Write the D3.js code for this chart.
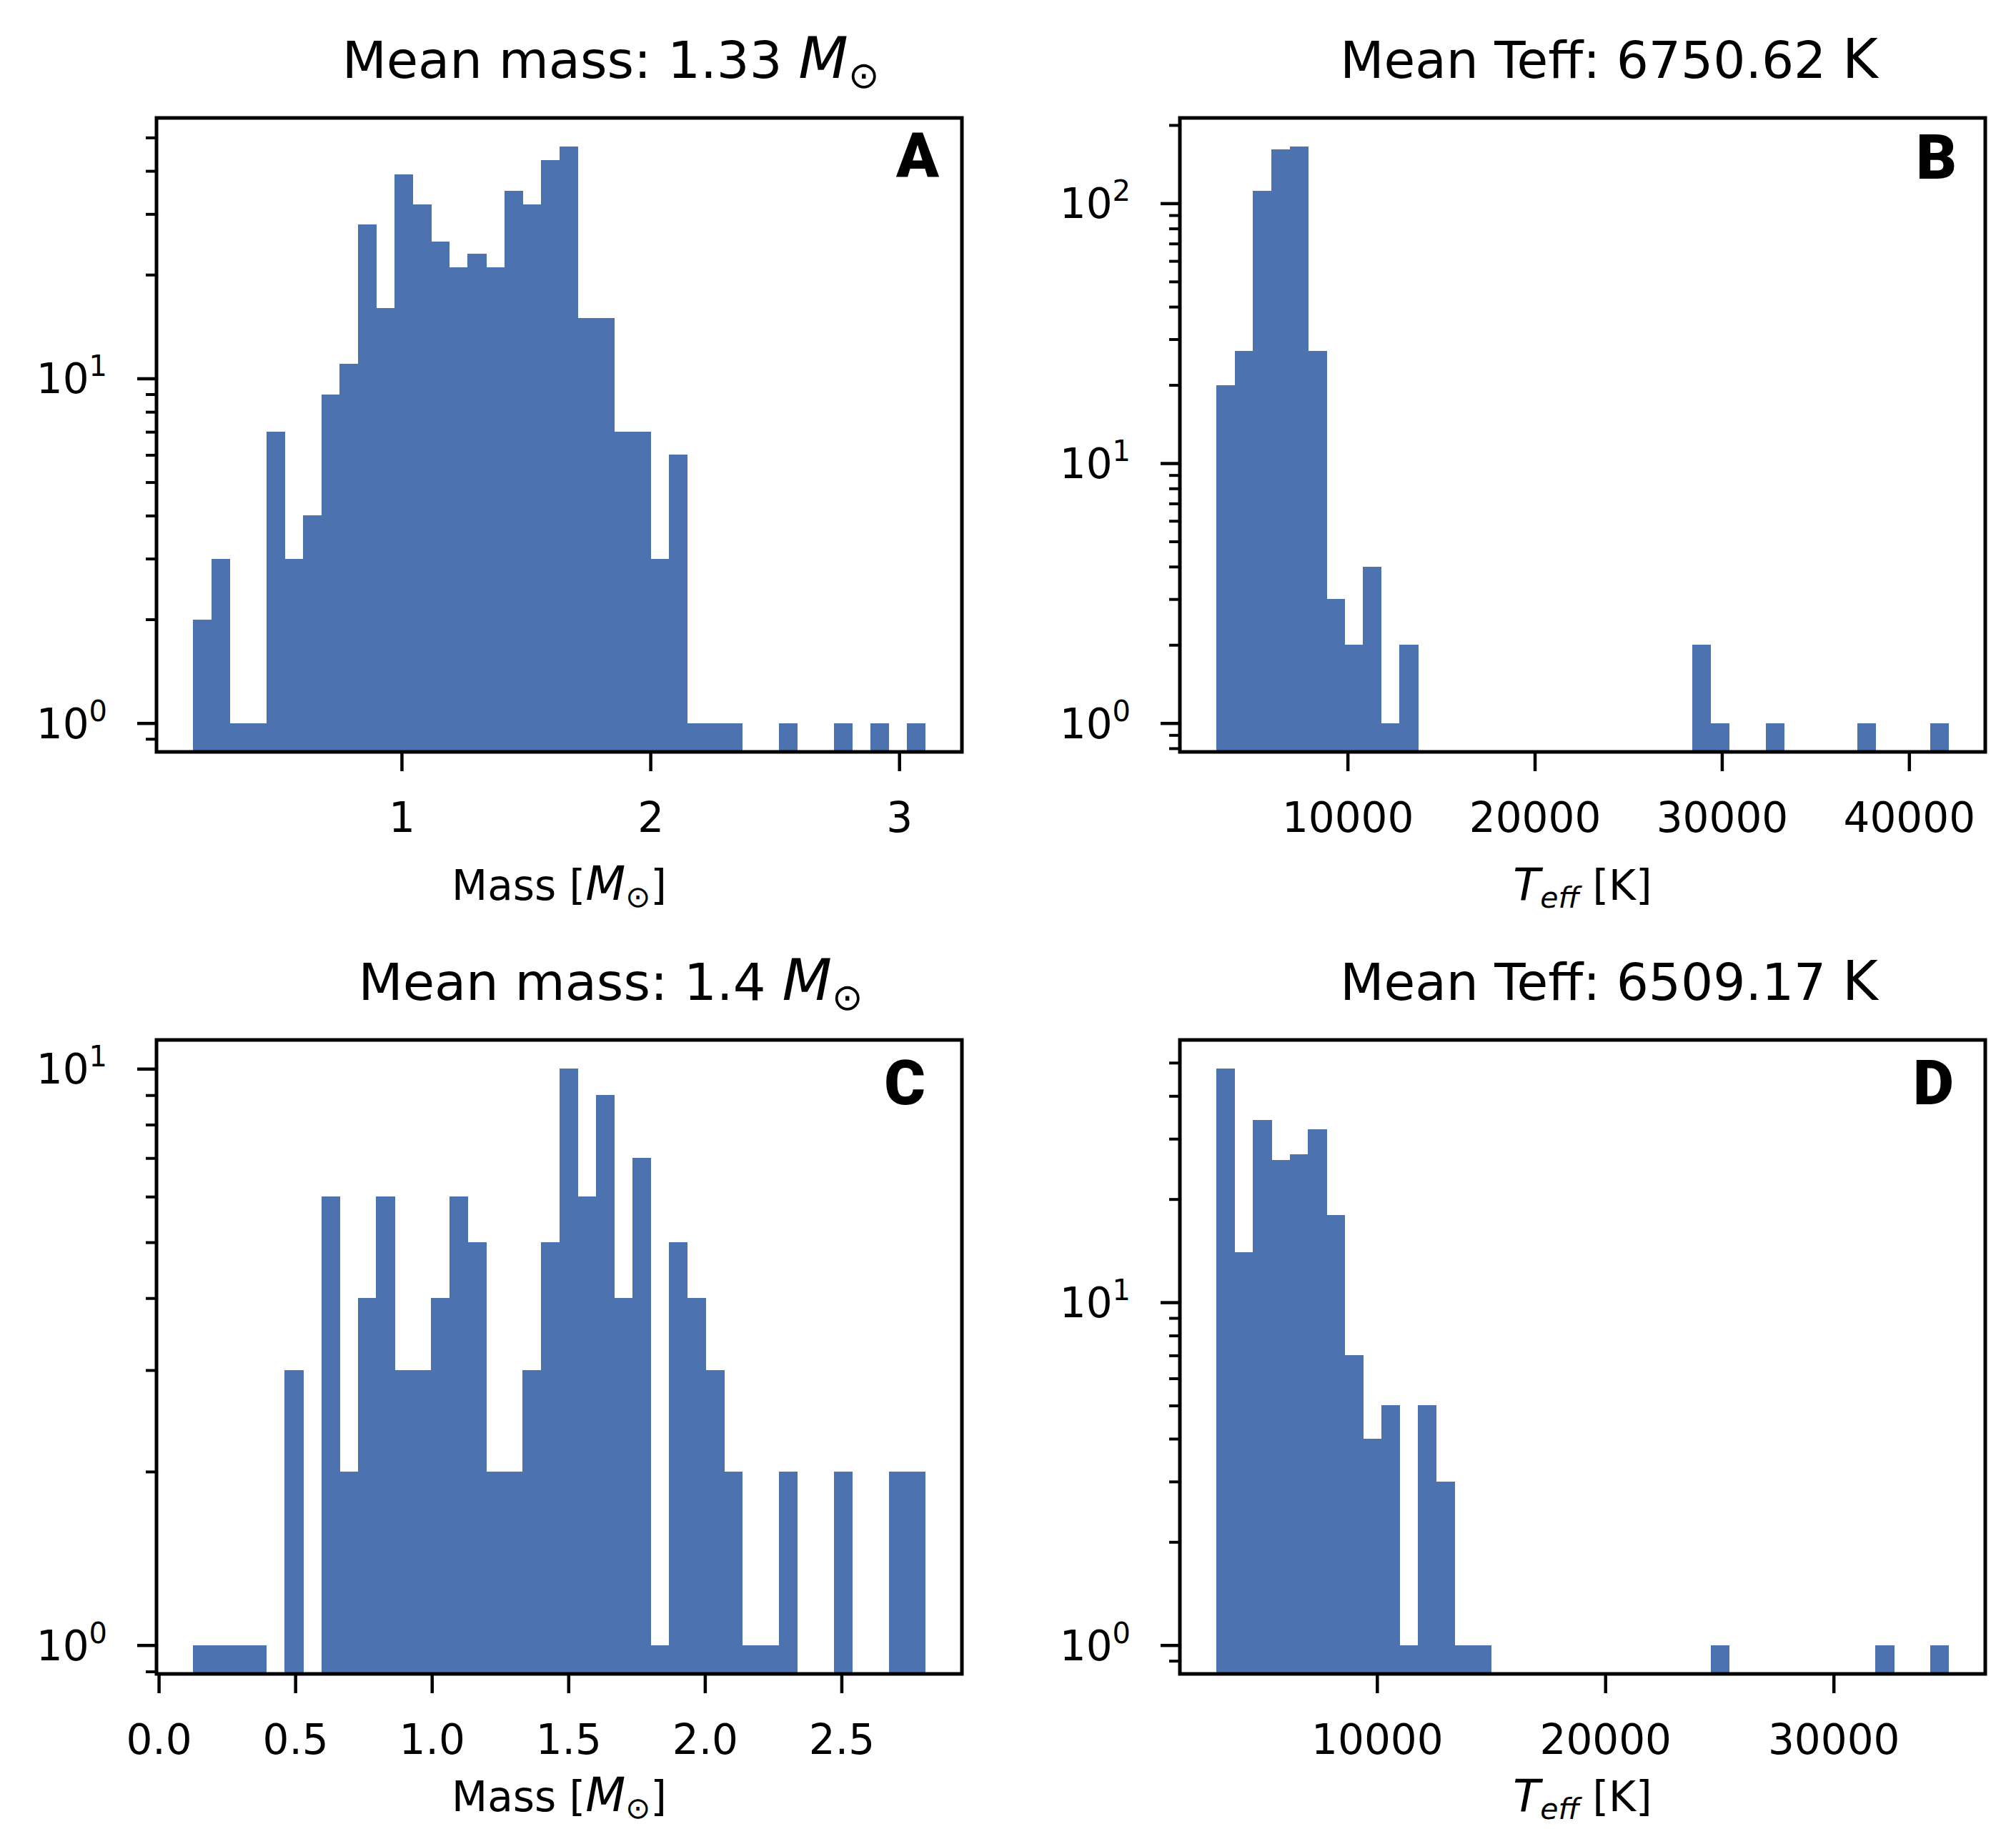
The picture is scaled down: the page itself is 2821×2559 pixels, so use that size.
<!DOCTYPE html>
<html>
<head>
<meta charset="utf-8">
<script src="https://cdn.jsdelivr.net/npm/d3@7"></script>
<style>
    body { margin: 0; background: #ffffff; }
    svg { display: block; font-family: "DejaVu Sans", sans-serif; }
</style>
</head>
<body>
<svg id="figure"></svg>
<script>
//histogram data, 40 bins per panel, counts
let massRangeTop = [0.162, 3.105];
let massCountsTop = [2, 3, 1, 1, 7, 3, 4, 9, 11, 28, 16, 39, 32, 25, 21, 23, 21, 35, 32, 43,
    47, 15, 15, 7, 7, 3, 6, 1, 1, 1, 0, 0, 1, 0, 0, 1, 0, 1, 0, 1];

let teffRangeTop = [2996, 42118];
let teffCountsTop = [20, 27, 112, 161, 165, 27, 3, 2, 4, 1, 2, 0, 0, 0, 0, 0, 0, 0, 0, 0,
    0, 0, 0, 0, 0, 0, 2, 1, 0, 0, 1, 0, 0, 0, 0, 1, 0, 0, 0, 1];

let massRangeBottom = [0.126, 2.807];
let massCountsBottom = [1, 1, 1, 1, 0, 3, 0, 6, 2, 4, 6, 3, 3, 4, 6, 5, 2, 2, 3, 5,
    10, 6, 9, 4, 7, 1, 5, 4, 3, 2, 1, 1, 2, 0, 0, 2, 0, 0, 2, 2];

let teffRangeBottom = [2969, 35042];
let teffCountsBottom = [48, 14, 34, 26, 27, 32, 18, 7, 4, 5, 1, 5, 3, 1, 1, 0, 0, 0, 0, 0,
    0, 0, 0, 0, 0, 0, 0, 1, 0, 0, 0, 0, 0, 0, 0, 0, 1, 0, 0, 1];

//tick values and labels
let massTicksTop = [1, 2, 3];
let teffTicksTop = [10000, 20000, 30000, 40000];
let massTicksBottom = [0, 0.5, 1, 1.5, 2, 2.5];
let teffTicksBottom = [10000, 20000, 30000];

let panelLetters = ["A", "B", "C", "D"];
let meanMass = ["1.33", "1.4"];
let meanTeff = ["6750.62", "6509.17"];

let barColor = "#4c72b0";
let nBins = 40;

//figure layout
let W = 2821, H = 2559;
let axLeft = [219, 1651];
let axTop = [165, 1455];
let axWidth = 1127;
let axHeight = 887;
let xLabelGap = [207, 192];

let svg = d3.select("#figure")
    .attr("width", W)
    .attr("height", H)
    .style("background-color", "#ffffff");

svg.append("rect").attr("width", W).attr("height", H).attr("fill", "#ffffff");

let panels = [
    {range: massRangeTop, counts: massCountsTop, ticks: massTicksTop, fmt: d3.format("d"),
        col: 0, row: 0, letter: panelLetters[0], kind: "mass", mean: meanMass[0], letterDx: 32, letterDy: 83},
    {range: teffRangeTop, counts: teffCountsTop, ticks: teffTicksTop, fmt: d3.format("d"),
        col: 1, row: 0, letter: panelLetters[1], kind: "teff", mean: meanTeff[0], letterDx: 40, letterDy: 85},
    {range: massRangeBottom, counts: massCountsBottom, ticks: massTicksBottom, fmt: d3.format(".1f"),
        col: 0, row: 1, letter: panelLetters[2], kind: "mass", mean: meanMass[1], letterDx: 51, letterDy: 90},
    {range: teffRangeBottom, counts: teffCountsBottom, ticks: teffTicksBottom, fmt: d3.format("d"),
        col: 1, row: 1, letter: panelLetters[3], kind: "teff", mean: meanTeff[1], letterDx: 44, letterDy: 90}
];

//M with sun subscript, mathtext style
function addMsun(text, size, shift) {
    text.append("tspan")
        .style("font-style", "italic")
        .attr("font-size", size * 1.12)
        .text("M");
    text.append("tspan")
        .attr("font-size", size * 0.72)
        .attr("dy", shift)
        .text("\u2299");
}

function drawPanel(p) {
    let left = axLeft[p.col];
    let top = axTop[p.row];

    let span = p.range[1] - p.range[0];
    let binWidth = span / nBins;

    let x = d3.scaleLinear()
        .domain([p.range[0] - 0.05 * span, p.range[1] + 0.05 * span])
        .range([0, axWidth]);

    //log axis with 5% margins in decades, like matplotlib
    let logMax = Math.log10(d3.max(p.counts));
    let y = d3.scaleLog()
        .domain([Math.pow(10, -0.05 * logMax), Math.pow(10, 1.05 * logMax)])
        .range([axHeight, 0]);

    let g = svg.append("g")
        .attr("transform", "translate(" + left + "," + top + ")");

    let bins = p.counts.map(function(n, i) {
        return {x0: p.range[0] + i * binWidth, x1: p.range[0] + (i + 1) * binWidth, n: n};
    }).filter(d => d.n > 0);

    g.selectAll("rect.bar")
        .data(bins)
        .enter()
        .append("rect")
        .attr("class", "bar")
        .attr("x", d => x(d.x0))
        .attr("y", d => y(d.n))
        .attr("width", d => x(d.x1) - x(d.x0) + 0.6)
        .attr("height", d => axHeight - y(d.n))
        .attr("fill", barColor)
        .attr("shape-rendering", "crispEdges");

    //x axis
    let xAxis = g.append("g")
        .attr("transform", "translate(0," + axHeight + ")")
        .call(d3.axisBottom(x)
            .tickValues(p.ticks)
            .tickFormat(p.fmt)
            .tickSize(27)
            .tickSizeOuter(0)
            .tickPadding(44));
    xAxis.select(".domain").remove();
    xAxis.selectAll("line").attr("stroke", "#000").attr("stroke-width", 4.5);
    xAxis.selectAll("text")
        .attr("font-family", "DejaVu Sans")
        .attr("font-size", 58)
        .attr("fill", "#000");

    //y axis, major and minor ticks
    let lo = y.domain()[0], hi = y.domain()[1];
    let majors = [1, 10, 100, 1000].filter(v => v >= lo && v <= hi);
    let minors = [];
    [0.1, 1, 10, 100].forEach(function(dec) {
        for (let k = 2; k <= 9; k++) {
            let v = k * dec;
            if (v >= lo && v <= hi) minors.push(v);
        }
    });

    let yMinor = g.append("g")
        .call(d3.axisLeft(y).tickValues(minors).tickFormat("").tickSize(15).tickSizeOuter(0));
    yMinor.select(".domain").remove();
    yMinor.selectAll("line").attr("stroke", "#000").attr("stroke-width", 4);

    let yMajor = g.append("g")
        .call(d3.axisLeft(y).tickValues(majors).tickFormat("").tickSize(27).tickSizeOuter(0));
    yMajor.select(".domain").remove();
    yMajor.selectAll("line").attr("stroke", "#000").attr("stroke-width", 4.5);

    majors.forEach(function(v) {
        let t = g.append("text")
            .attr("x", -69)
            .attr("y", y(v) + 21)
            .attr("text-anchor", "end")
            .attr("font-size", 58)
            .attr("fill", "#000");
        t.append("tspan").text("10");
        t.append("tspan")
            .attr("font-size", 40)
            .attr("dy", -24)
            .text(Math.round(Math.log10(v)));
    });

    //frame
    g.append("rect")
        .attr("width", axWidth)
        .attr("height", axHeight)
        .attr("fill", "none")
        .attr("stroke", "#000")
        .attr("stroke-width", 5);

    //title
    let title = g.append("text")
        .attr("x", axWidth / 2 + (p.kind == "mass" ? 72 : 37))
        .attr("y", -56)
        .attr("text-anchor", "middle")
        .attr("font-size", p.kind == "mass" ? 72 : 71)
        .attr("fill", "#000");
    if (p.kind == "mass") {
        title.append("tspan").text("Mean mass: " + p.mean + " ");
        addMsun(title, 72, 14);
    } else {
        title.append("tspan").text("Mean Teff: " + p.mean + " ");
        title.append("tspan").attr("font-size", 76).text("K");
    }

    //x label
    let gap = xLabelGap[p.row];
    let xlab = g.append("text")
        .attr("x", axWidth / 2)
        .attr("y", axHeight + gap)
        .attr("text-anchor", "middle")
        .attr("font-size", 58)
        .attr("fill", "#000");
    if (p.kind == "mass") {
        xlab.append("tspan").text("Mass [");
        addMsun(xlab, 58, 10);
        xlab.append("tspan").attr("dy", -10).text("]");
    } else {
        xlab.append("tspan").style("font-style", "italic").attr("font-size", 62).text("T");
        xlab.append("tspan")
            .style("font-style", "italic")
            .attr("font-size", 41)
            .attr("dy", 11)
            .text("eff");
        xlab.append("tspan").attr("dy", -11).text(" [K]");
    }

    //panel letter
    g.append("text")
        .attr("x", axWidth - p.letterDx)
        .attr("y", p.letterDy)
        .attr("text-anchor", "end")
        .attr("font-family", "Roboto")
        .attr("font-weight", 900)
        .attr("font-size", 88)
        .attr("fill", "#000")
        .text(p.letter);
}

panels.forEach(drawPanel);
</script>
</body>
</html>
